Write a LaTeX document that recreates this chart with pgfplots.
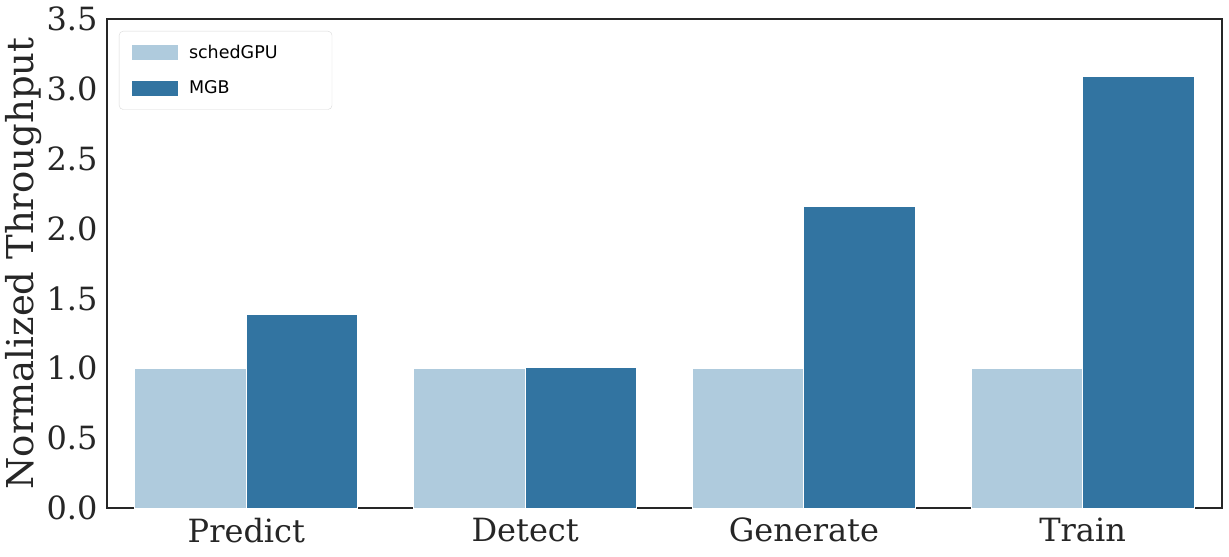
\documentclass[border=0pt]{standalone}
\usepackage{fontspec}
\setmainfont{DejaVu Serif}
\newfontfamily\legendfont{DejaVu Sans}
\usepackage{pgfplots}
\pgfplotsset{compat=1.18}
\definecolor{lightb}{RGB}{175,203,221}
\definecolor{darkb}{RGB}{50,116,161}
\definecolor{txt}{RGB}{38,38,38}
\begin{document}
\begin{tikzpicture}
\begin{axis}[
  scale only axis,
  width=1115pt, height=489pt,
  xmin=-0.5, xmax=3.5, ymin=0, ymax=3.5,
  ybar, bar width=0.4,
  xtick={0,1,2,3},
  xticklabels={Predict,Detect,Generate,Train},
  ytick={0,0.5,1,1.5,2,2.5,3,3.5},
  /pgf/number format/assume math mode=true,
  yticklabel style={/pgf/number format/fixed, /pgf/number format/fixed zerofill, /pgf/number format/precision=1},
  tick style={draw=none},
  axis line style={draw=txt, line width=1.1pt},
  ticklabel style={font=\fontsize{32}{38}\selectfont, text=txt},
  xticklabel style={yshift=-2pt},
  yticklabel style={xshift=-6pt},
  ylabel={Normalized Throughput},
  ylabel style={font=\fontsize{37}{44}\selectfont, text=txt, yshift=-2pt},
  legend cell align=left,
  legend style={at={(0,1)}, anchor=north west, xshift=12pt, yshift=-12pt,
    font=\legendfont\fontsize{17.5}{20}\selectfont, draw=black!15, rounded corners=4pt,
    inner xsep=12pt, inner ysep=12pt, row sep=17pt},
  legend image code/.code={\fill[#1, sharp corners] (0pt,-8pt) rectangle (47pt,8pt); \path (55pt,0pt);},
]
\addplot[fill=lightb, draw=white, line width=0.8pt, bar shift=-0.2] coordinates {(0,1) (1,1) (2,1) (3,1)};
\addlegendentry{\makebox[129pt][l]{schedGPU}}
\addplot[fill=darkb, draw=white, line width=0.8pt, bar shift=0.2] coordinates {(0,1.385) (1,1.005) (2,2.16) (3,3.09)};
\addlegendentry{\makebox[129pt][l]{MGB}}
\coordinate (A) at (rel axis cs:0,0);
\coordinate (B) at (rel axis cs:1,1);
\end{axis}
\pgfresetboundingbox
\useasboundingbox ([xshift=-107pt,yshift=-48pt]A) rectangle ([xshift=7pt,yshift=19pt]B);
\end{tikzpicture}
\end{document}
